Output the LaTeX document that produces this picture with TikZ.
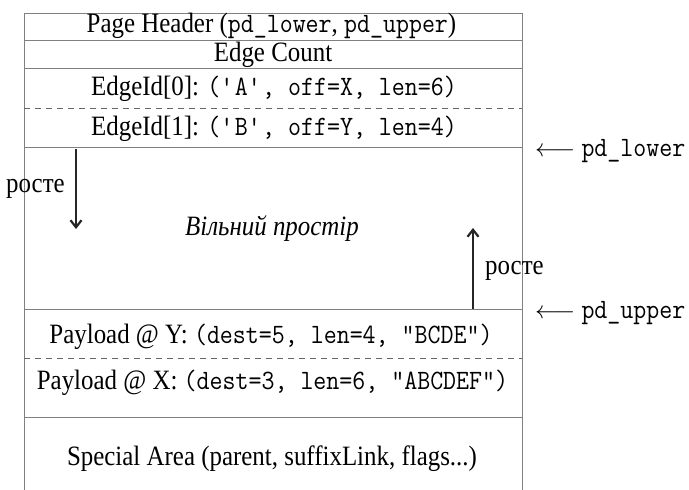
\documentclass[tikz,border=0pt]{standalone}
\usepackage{fontspec}
\setmainfont{Liberation Serif}[FakeStretch=0.89]
\setmonofont{Latin Modern Mono}[FakeStretch=0.90]
\usetikzlibrary{arrows.meta}
\begin{document}
\begin{tikzpicture}[x=1pt,y=-1pt,
  lbl/.style={inner sep=0pt, anchor=base, font=\fontsize{28}{31}\selectfont},
  sep/.style={draw=black!50, line width=0.9pt},
  dsep/.style={draw=black!60, line width=0.9pt, dash pattern=on 6pt off 5pt},
  growarrow/.style={draw=black!85, line width=2.2pt, -{Straight Barb[length=7pt,width=11pt]}},
  ptr/.style={inner sep=0pt, anchor=base west, font=\fontsize{28}{31}\selectfont}]
\useasboundingbox (0,0) rectangle (689,490);
% frame
\coordinate (tl) at (24,13);
\coordinate (tr) at (522,13);
\coordinate (bl) at (24,490);
\coordinate (br) at (522,490);
\draw[sep] (bl) -- (tl) -- (tr) -- (br);
\foreach \y/\n in {40/a,68/b,147/c,309/d,417/e}{
  \coordinate (l\n) at (24,\y);
  \coordinate (r\n) at (522,\y);
  \draw[sep] (l\n) -- (r\n);
}
\coordinate (ldash1) at (24,108); \coordinate (rdash1) at (522,108);
\coordinate (ldash2) at (24,358); \coordinate (rdash2) at (522,358);
\draw[dsep] (ldash1) -- (rdash1);
\draw[dsep] (ldash2) -- (rdash2);
% texts
\node[lbl] (hdr) at (271.5,32) {Page Header (\texttt{pd\_lower}, \texttt{pd\_upper})};
\node[lbl] (cnt) at (273,61) {Edge Count};
\node[lbl] (e0) at (274,95) {EdgeId[0]: \texttt{(\textquotesingle A\textquotesingle, off=X, len=6)}};
\node[lbl] (e1) at (274,135) {EdgeId[1]: \texttt{(\textquotesingle B\textquotesingle, off=Y, len=4)}};
\node[lbl, font=\fontsize{28}{31}\selectfont\itshape] (free) at (272,235) {Вільний простір};
\node[lbl] (py) at (271,343) {Payload @ Y: \texttt{(dest=5, len=4, "BCDE")}};
\node[lbl] (px) at (272.5,389) {Payload @ X: \texttt{(dest=3, len=6, "ABCDEF")}};
\node[lbl] (sp) at (272,465) {Special Area (parent, suffixLink, flags...)};
% growth arrows
\coordinate (d1) at (76,149);
\coordinate (d2) at (76,229);
\draw[growarrow] (d1) -- (d2);
\node[lbl, anchor=base west] (g1) at (6,192) {росте};
\coordinate (u1) at (473,309);
\coordinate (u2) at (473,228);
\draw[growarrow] (u1) -- (u2);
\node[lbl, anchor=base west] (g2) at (485,274) {росте};
% pointers
\node[ptr] (pl) at (535,156) {$\longleftarrow$ \texttt{pd\_lower}};
\node[ptr] (pu) at (535,318) {$\longleftarrow$ \texttt{pd\_upper}};
\end{tikzpicture}
\end{document}
